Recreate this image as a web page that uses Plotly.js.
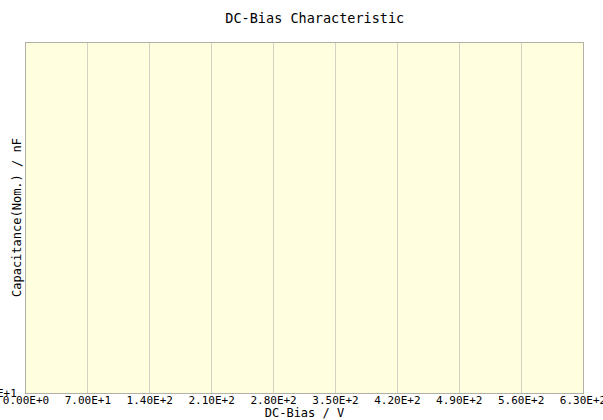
<!DOCTYPE html>
<html>
<head>
<meta charset="utf-8">
<script src="https://cdn.plot.ly/plotly-3.0.1.min.js"></script>
<style>html,body{margin:0;padding:0;background:#fff;}#chart{width:603px;height:420px;}</style>
</head>
<body>
<div id="chart"></div>
<script>
// Data (the reference chart contains no plotted series)
const seriesX = [];
const seriesY = [];
const xTickValues = [0, 70, 140, 210, 280, 350, 420, 490, 560, 630];
const xTickLabels = xTickValues.map(v => v.toExponential(2).toUpperCase());
const yTickValues = [10];
const yTickLabels = ["1.00E+1"];

const FONT = "DejaVu Sans Mono, Liberation Mono, monospace";

const traces = [{
  x: seriesX, y: seriesY, type: "scatter", mode: "lines",
  line: {color: "#0000ff"}, showlegend: false
}];

const layout = {
  width: 603, height: 420,
  margin: {l: 26, r: 20, t: 43, b: 27, pad: 0},
  paper_bgcolor: "#ffffff",
  plot_bgcolor: "#ffffe0",
  showlegend: false,
  font: {family: FONT, color: "#000000", size: 11},
  title: {
    text: "DC-Bias Characteristic",
    font: {family: FONT, size: 13.5, color: "#000000"},
    x: 0.522, xref: "container", xanchor: "center",
    y: 1 - 18/420, yref: "container", yanchor: "middle"
  },
  xaxis: {
    range: [0, 630],
    tickmode: "array", tickvals: xTickValues, ticktext: xTickLabels,
    ticks: "", showgrid: true, gridcolor: "#d2d2c4", gridwidth: 1,
    zeroline: false,
    showline: true, linecolor: "#b0b0a8", linewidth: 1, mirror: true,
    tickfont: {family: FONT, size: 11, color: "#000000"},
    ticklabeloverflow: "allow",
    ticklabelstandoff: -3,
    title: {text: "DC-Bias / V", font: {family: FONT, size: 12, color: "#000000"}, standoff: 1},
    automargin: false, fixedrange: true
  },
  yaxis: {
    type: "log", range: [1, 1.9],
    tickmode: "array", tickvals: yTickValues, ticktext: yTickLabels,
    ticks: "", showgrid: false, zeroline: false,
    showline: true, linecolor: "#b0b0a8", linewidth: 1, mirror: true,
    tickfont: {family: FONT, size: 11, color: "#000000"},
    ticklabeloverflow: "allow",
    ticklabelstandoff: 6,
    automargin: false, fixedrange: true
  },
  annotations: [{
    text: "Capacitance(Nom.) / nF",
    xref: "paper", yref: "paper",
    x: -9/557, y: 0.5, xanchor: "center", yanchor: "middle",
    textangle: -90, showarrow: false,
    font: {family: FONT, size: 12, color: "#000000"}
  }]
};

Plotly.newPlot("chart", traces, layout, {displayModeBar: false, staticPlot: true});
</script>
</body>
</html>
